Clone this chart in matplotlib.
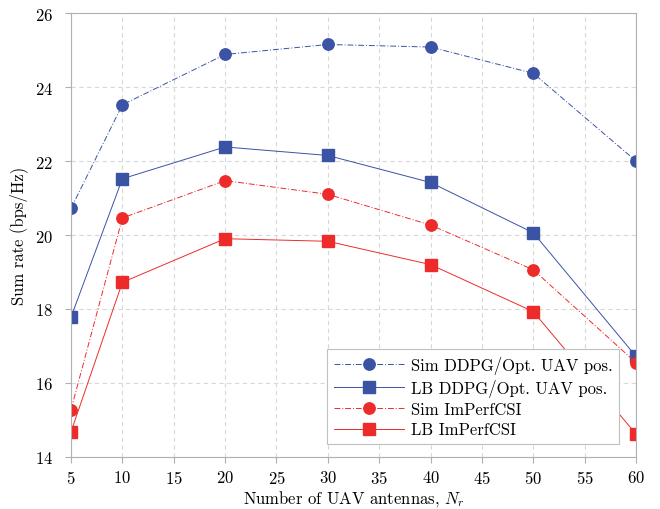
import matplotlib.pyplot as plt

plt.rcParams['font.family'] = 'cmr10'
plt.rcParams['mathtext.fontset'] = 'cm'
plt.rcParams['axes.formatter.use_mathtext'] = True

# Number of UAV antennas
n_antennas = [5, 10, 20, 30, 40, 50, 60]

sim_ddpg = [20.72, 23.52, 24.88, 25.15, 25.08, 24.37, 22.00]
lb_ddpg = [17.78, 21.52, 22.38, 22.15, 21.42, 20.06, 16.72]
sim_imperf = [15.28, 20.46, 21.47, 21.10, 20.27, 19.06, 16.55]
lb_imperf = [14.68, 18.72, 19.90, 19.83, 19.20, 17.93, 14.62]

labels = ['Sim DDPG/Opt. UAV pos.', 'LB DDPG/Opt. UAV pos.',
          'Sim ImPerfCSI', 'LB ImPerfCSI']

blue = '#3a53a4'
red = '#ee2b2b'
dashdot = (0, (6, 2, 1, 2))

fig = plt.figure(figsize=(6.6, 5.1), dpi=100)
ax = fig.add_axes([0.1076, 0.102, 0.856, 0.8705])

ax.plot(n_antennas, sim_ddpg, color=blue, ls=dashdot, lw=0.7,
        marker='o', ms=8.2, label=labels[0])
ax.plot(n_antennas, lb_ddpg, color=blue, ls='-', lw=0.7,
        marker='s', ms=8.2, label=labels[1])
ax.plot(n_antennas, sim_imperf, color=red, ls=dashdot, lw=0.7,
        marker='o', ms=8.2, label=labels[2])
ax.plot(n_antennas, lb_imperf, color=red, ls='-', lw=0.7,
        marker='s', ms=8.2, label=labels[3])

ax.set_xlim(5, 60)
ax.set_ylim(14, 26)
ax.set_xticks(range(5, 61, 5))
ax.set_yticks(range(14, 27, 2))
ax.grid(True, color='#d8d8d8', ls=(0, (4, 3)), lw=0.8)
ax.set_axisbelow(True)

for s in ax.spines.values():
    s.set_color('#b0b0b0')
    s.set_linewidth(0.8)
ax.tick_params(axis='y', direction='out', color='#b0b0b0', labelsize=12,
               length=4, pad=9)
ax.tick_params(axis='x', direction='out', color='#b0b0b0', labelsize=12,
               length=4, pad=5)

ax.set_xlabel(r'Number of UAV antennas, $N_r$', fontsize=12, labelpad=1)
ax.set_ylabel('Sum rate (bps/Hz)', fontsize=12, labelpad=5)

leg = ax.legend(loc='lower right', bbox_to_anchor=(0.97, 0.029), fontsize=12,
                fancybox=False, edgecolor='#c0c0c0', framealpha=1,
                borderaxespad=0, handlelength=4.2, handletextpad=0.4,
                borderpad=0.4, labelspacing=0.3)
leg.get_frame().set_linewidth(0.8)

fig.savefig('out.png', dpi=100)
